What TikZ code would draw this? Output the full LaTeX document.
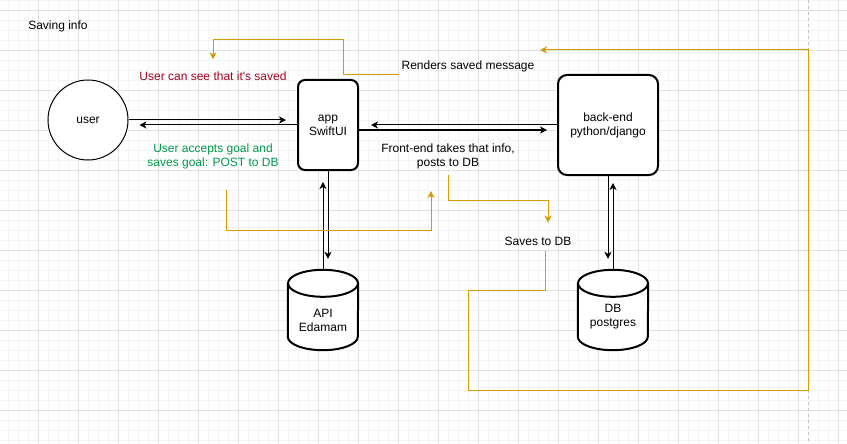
\documentclass[tikz,border=0pt]{standalone}
\usepackage{fontspec}
\setmainfont{Liberation Sans}
\usetikzlibrary{arrows.meta,calc}
\definecolor{flowline}{HTML}{D79B00}
\definecolor{gridmajor}{HTML}{E0E0E0}
\definecolor{gridminor}{HTML}{F4F4F4}
\definecolor{pagebreak}{HTML}{C4C4C4}
\definecolor{savedred}{HTML}{A50021}
\definecolor{goalgreen}{HTML}{00994D}
\newcommand{\Can}[1]{
	%body
	\draw[line width=2pt,fill=white]([yshift=-13.5pt]#1.north west)--([yshift=13.5pt]#1.south west)
		arc[start angle=180,end angle=360,x radius=35pt,y radius=13.5pt]--([yshift=-13.5pt]#1.north east);
	%lid
	\draw[line width=2pt,fill=white]([yshift=-13.5pt]#1.north) ellipse[x radius=35pt,y radius=13.5pt];
}

\begin{document}
\begin{tikzpicture}[x=1pt,y=-1pt,
	every node/.style={font=\fontsize{12pt}{14pt}\selectfont},
	txt/.style={inner sep=2pt,align=center},
	box/.style={draw,line width=2pt,fill=white,align=center},
	canbox/.style={minimum width=70pt,minimum height=80pt,inner sep=0pt},
	arr/.style={line width=1pt,-{Stealth[length=7pt,width=7pt,inset=2pt]}},
	flow/.style={draw=flowline,line width=1pt,-{Stealth[length=7pt,width=7pt,inset=2pt]}}]
\useasboundingbox (0,0) rectangle (847,444);
\fill[white] (0,0) rectangle (847,444);
%grid
\foreach \x in {8,18,...,838}
	\draw[gridminor,line width=1pt](\x+0.5,0)--(\x+0.5,444);
\foreach \y in {0,10,...,440}
	\draw[gridminor,line width=1pt](0,\y+0.5)--(847,\y+0.5);
\foreach \x in {38,78,...,838}
	\draw[gridmajor,line width=1pt](\x+0.5,0)--(\x+0.5,444);
\foreach \y in {10,50,...,410}
	\draw[gridmajor,line width=1pt](0,\y+0.5)--(847,\y+0.5);
%page break
\draw[pagebreak,line width=1pt,dash pattern=on 3pt off 3pt](808.5,0)--(808.5,444);

\node [txt] (title) at (58,26) {Saving info};
\node [draw,circle,line width=1pt,fill=white,minimum size=80pt] (user) at (88,120) {user};
\node [box,rounded corners=7pt,minimum width=60pt,minimum height=90pt] (app) at (328,125) {app\\SwiftUI};
\node [box,rounded corners=9pt,minimum width=100pt,minimum height=100pt] (back) at (608,125) {back-end\\python/django};
\node [canbox] (api) at (323,310) {};
\Can{api}
\node [txt] at ([yshift=-10pt]api.center) {API\\Edamam};
\node [canbox] (db) at (613,310) {};
\Can{db}
\node [txt] at ([yshift=-7pt]db.center) {DB\\postgres};

%labels
\node [txt,text=savedred] (seen) at (213,76) {User can see that it\textquotesingle s saved};
\node [txt,text=goalgreen] (goal) at (213,156) {User accepts goal and\\saves goal: POST to DB};
\node [txt] (front) at (448,156) {Front-end takes that info,\\posts to DB};
\node [txt] (rend) at (468,66) {Renders saved message};
\node [txt] (save) at (538,241) {Saves to DB};
\coordinate (goal out) at (226,190);
\coordinate (front in) at (431,191);
\coordinate (rend in) at (540,50);

%user and app
\draw[arr](user.east)--([xshift=-11pt]app.west|-user.east);
\draw[arr](app.west)--([xshift=11pt]user.east|-app.west);
%app and back-end
\draw[arr]([yshift=-5pt]app.east)--([xshift=-10pt,yshift=-5pt]back.west);
\draw[arr](back.west)--([xshift=12pt]app.east);
%app and api
\draw[arr](app.south)--([xshift=5pt,yshift=11pt]api.north);
\draw[arr](api.north)--([xshift=-5pt,yshift=-11pt]app.south);
%back-end and db
\draw[arr](back.south)--([xshift=-5pt,yshift=11pt]db.north);
\draw[arr](db.north)--([xshift=5pt,yshift=-7pt]back.south);

%flow of the saving
\draw[flow](goal out)--(226,230)-|(front in);
\draw[flow]([yshift=-4pt]front.south)--(448,200)-|([xshift=10pt,yshift=12pt]save.north);
\draw[flow]([xshift=7pt,yshift=-4pt]save.south)--(545,290)-|(468,390)-|(808,50)--(rend in);
\draw[flow]([yshift=-9pt]rend.west)-|(343,40)-|([yshift=10pt]seen.north);
\end{tikzpicture}
\end{document}
